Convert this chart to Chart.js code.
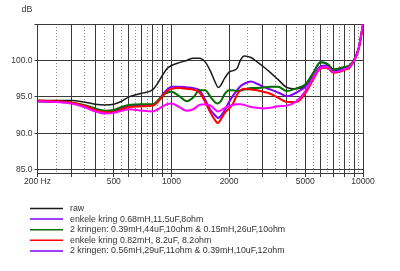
<!DOCTYPE html>
<html>
<head>
<meta charset="utf-8">
<script src="https://cdn.jsdelivr.net/npm/chart.js@4.4.0/dist/chart.umd.min.js"></script>
<style>
  html, body { margin: 0; padding: 0; background: #fff; }
  canvas { display: block; }
</style>
</head>
<body>
<canvas id="chart" width="400" height="271"></canvas>
<script>
// frequency points (Hz) shared by all measurements
const freqs = [200, 250, 300, 350, 400, 450, 500, 550, 600, 700, 800, 850, 900, 950, 1000,
  1100, 1200, 1300, 1400, 1500, 1600, 1700, 1750, 1800, 1900, 2000, 2100, 2200, 2300, 2400,
  2600, 2800, 3000, 3300, 3600, 4000, 4500, 5000, 5500, 6000, 6500, 7000, 7500, 8000,
  8500, 9000, 9500, 10000];

const raw = [94.5, 94.5, 94.5, 94.3, 94.0, 93.9, 94.0, 94.4, 95.0, 95.5, 96.0, 96.9, 98.0, 98.9, 99.3,
  99.7, 100.0, 100.3, 100.3, 99.8, 98.5, 96.9, 96.3, 96.5, 97.6, 98.4, 98.6, 98.9, 100.1, 100.6,
  100.4, 99.8, 99.2, 98.3, 97.4, 96.3, 96.1, 96.6, 98.3, 99.7, 99.6, 98.8, 98.9, 99.1,
  99.3, 100.2, 101.8, 104.9];

const kring068 = [94.4, 94.3, 94.2, 93.8, 93.2, 92.9, 93.0, 93.4, 93.7, 93.8, 93.9, 94.4, 95.3, 96.0, 96.4,
  96.4, 96.3, 96.2, 95.9, 94.6, 93.2, 92.4, 92.1, 92.3, 93.2, 94.3, 95.2, 95.9, 96.5, 96.8,
  97.1, 96.8, 96.4, 96.0, 95.6, 95.1, 95.6, 96.4, 97.8, 99.2, 99.3, 98.5, 98.7, 99.0,
  99.2, 100.0, 101.7, 104.9];

const kringen039 = [94.4, 94.3, 94.2, 93.9, 93.4, 93.1, 93.2, 93.6, 93.9, 94.0, 94.0, 94.5, 95.2, 95.6, 95.7,
  95.1, 94.4, 94.9, 95.9, 95.9, 95.0, 94.2, 94.1, 94.3, 95.4, 95.9, 95.9, 95.8, 95.9, 96.0,
  96.2, 96.2, 96.3, 96.4, 96.4, 95.8, 96.2, 96.7, 98.3, 99.8, 99.5, 98.7, 98.9, 99.1,
  99.3, 100.1, 101.7, 104.9];

const kring082 = [94.5, 94.4, 94.2, 93.8, 93.2, 92.9, 92.9, 93.3, 93.6, 93.7, 93.8, 94.3, 95.1, 95.8, 96.1,
  96.2, 96.1, 96.0, 95.6, 94.3, 92.8, 91.7, 91.4, 91.8, 92.8, 93.4, 94.1, 95.3, 95.9, 96.1,
  96.0, 95.9, 95.7, 95.4, 94.9, 94.3, 94.3, 95.5, 97.4, 98.9, 99.0, 98.3, 98.4, 98.7,
  99.0, 100.0, 101.6, 104.8];

const kringen056 = [94.4, 94.3, 94.1, 93.6, 93.0, 92.7, 92.8, 93.1, 93.3, 93.1, 93.0, 93.3, 93.7, 94.0, 94.1,
  93.6, 93.1, 93.3, 93.9, 94.0, 93.8, 93.2, 93.0, 93.1, 93.5, 93.7, 93.9, 94.0, 94.0, 93.9,
  93.6, 93.5, 93.4, 93.5, 93.7, 93.8, 94.4, 95.8, 97.6, 99.0, 99.1, 98.4, 98.5, 98.8,
  99.1, 100.0, 101.7, 105.0];

const seriesNames = [
  'raw',
  'enkele kring 0.68mH,11.5uF,8ohm',
  '2 kringen: 0.39mH,44uF,10ohm & 0.15mH,26uF,10ohm',
  'enkele kring 0.82mH, 8.2uF, 8.2ohm',
  '2 kringen: 0.56mH,29uF,11ohm & 0.39mH,10uF,12ohm'
];
const seriesValues = [raw, kring068, kringen039, kring082, kringen056];

// grid positions on the frequency axis and the labelled ones
const gridFreqs = [200, 250, 300, 350, 400, 450, 500, 550, 600, 650, 700, 750, 800, 850, 900, 950,
  1000, 1500, 2000, 2500, 3000, 3500, 4000, 4500, 5000, 5500, 6000, 6500, 7000, 7500, 8000,
  8500, 9000, 9500, 10000];
const freqLabels = { 200: '200 Hz', 500: '500', 1000: '1000', 2000: '2000', 5000: '5000', 10000: '10000' };
const dbTicks = [85, 90, 95, 100, 105];

const lineColors = ['#1a1a1a', '#8000ff', '#006e00', '#ff0000', '#ff00ff'];
const legendColors = ['#1a1a1a', '#8000ff', '#006e00', '#ff0000', '#8000ff'];
const drawOrder = [4, 3, 2, 1, 0];

const isMajor = v => (v < 1000 ? v % 100 === 0 : v % 1000 === 0);
const FONT = '"Liberation Sans", Arial, sans-serif';
const GRID = '#3a3a3a';

const extras = {
  id: 'extras',
  afterDraw(chart) {
    const { ctx } = chart;
    ctx.save();
    ctx.fillStyle = '#333';
    ctx.font = '8.8px ' + FONT;
    ctx.textBaseline = 'middle';
    ctx.textAlign = 'center';
    ctx.fillText('dB', 27, 10);
    ctx.textAlign = 'left';
    seriesNames.forEach((name, i) => {
      const y = 208.5 + i * 10.6;
      ctx.strokeStyle = legendColors[i];
      ctx.lineWidth = 1.5;
      ctx.beginPath();
      ctx.moveTo(30, y);
      ctx.lineTo(63, y);
      ctx.stroke();
      ctx.fillText(name, 70, y);
    });
    ctx.restore();
  }
};

new Chart(document.getElementById('chart'), {
  type: 'line',
  data: {
    datasets: seriesValues.map((vals, i) => ({
      label: seriesNames[i],
      data: freqs.map((f, j) => ({ x: f, y: vals[j] })),
      borderColor: lineColors[i],
      borderWidth: i === 0 ? 1.5 : 2,
      pointRadius: 0,
      cubicInterpolationMode: 'monotone',
      order: drawOrder[i],
    })),
  },
  options: {
    responsive: false,
    animation: false,
    events: [],
    layout: { padding: { left: 11, right: 37, top: 24, bottom: 82 } },
    plugins: { legend: { display: false }, tooltip: { enabled: false } },
    scales: {
      x: {
        type: 'logarithmic',
        min: 200,
        max: 10000,
        afterBuildTicks: s => { s.ticks = gridFreqs.map(v => ({ value: v })); },
        afterFit: s => { s.height = 16; },
        ticks: {
          autoSkip: false,
          maxRotation: 0,
          minRotation: 0,
          padding: 0,
          color: '#333',
          font: { family: FONT, size: 8.5 },
          callback: v => freqLabels[v] || '',
        },
        grid: {
          color: c => (isMajor(c.tick.value) ? GRID : '#8a8a8a'),
          tickColor: c => (isMajor(c.tick.value) ? GRID : 'rgba(0,0,0,0)'),
          tickLength: 4,
          lineWidth: 1,
        },
        border: {
          color: GRID,
          dash: c => (c.tick && !isMajor(c.tick.value) ? [1, 2] : []),
        },
      },
      y: {
        min: 84.55,
        max: 105,
        afterBuildTicks: s => { s.ticks = dbTicks.map(v => ({ value: v })); },
        afterFit: s => { s.width = 26.5; },
        ticks: {
          padding: 2,
          color: '#333',
          font: { family: FONT, size: 8.5 },
          callback: v => (v === 105 ? '' : v.toFixed(1)),
        },
        grid: { color: GRID, tickColor: GRID, tickLength: 3, lineWidth: 1 },
        border: { color: GRID },
      },
    },
  },
  plugins: [extras],
});
</script>
</body>
</html>
